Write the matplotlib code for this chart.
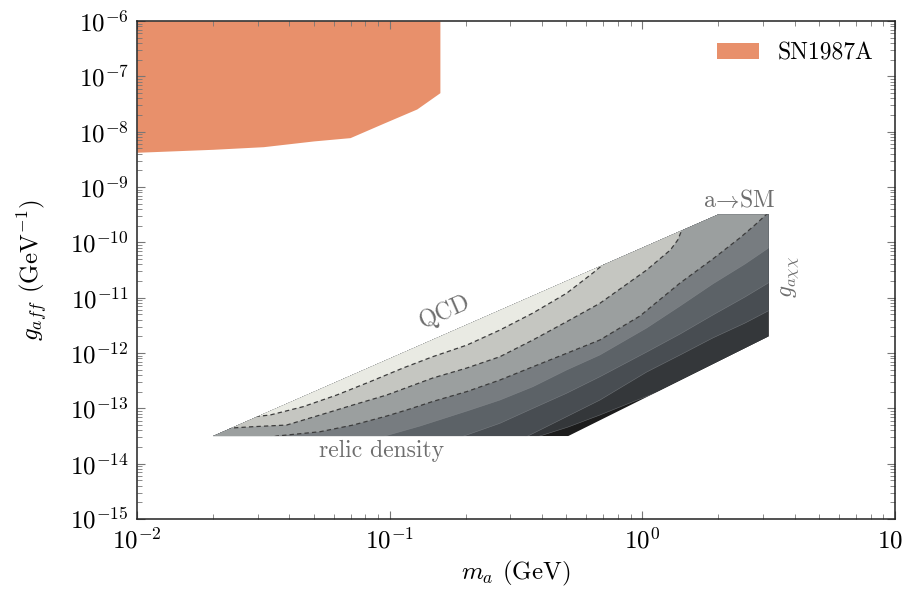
import matplotlib
matplotlib.use("Agg")
import matplotlib.pyplot as plt
from matplotlib.patches import Polygon
from matplotlib.ticker import LogLocator, NullFormatter

plt.rcParams['font.family'] = ['cmr10', 'DejaVu Serif']
plt.rcParams['mathtext.fontset'] = 'cm'
plt.rcParams['axes.formatter.use_mathtext'] = True

# --- SN1987A excluded region (lower edge, filled up to the top) ---
sn_m = [0.01, 0.02, 0.0316, 0.05, 0.0697, 0.0944, 0.128, 0.158]
sn_g = [4.24e-9, 4.8e-9, 5.35e-9, 6.8e-9, 7.8e-9, 1.42e-8, 2.57e-8, 5.06e-8]

# --- allowed region outline (QCD / relic density / a->SM / g_axx edges) ---
region_m = [0.02, 0.509, 3.16, 3.16, 2.0]
region_g = [3.16e-14, 3.16e-14, 2.0e-12, 3.2e-10, 3.2e-10]

# --- contour boundaries, upper-left to lower-right ---
b1_m = [0.0275, 0.0336, 0.0454, 0.0617, 0.0836, 0.113, 0.148, 0.202, 0.273, 0.369, 0.501, 0.637, 0.793]
b1_g = [6.87e-14, 7.57e-14, 1.07e-13, 1.74e-13, 3.03e-13, 5.36e-13, 8.57e-13, 1.39e-12, 2.60e-12,
        5.28e-12, 1.20e-11, 2.79e-11, 6.41e-11]

b2_m = [0.0226, 0.0288, 0.0391, 0.0530, 0.0716, 0.0973, 0.148, 0.202, 0.273, 0.369, 0.501, 0.679,
        1.04, 1.29, 1.38, 1.45, 1.48]
b2_g = [4.36e-14, 4.66e-14, 4.99e-14, 7.57e-14, 1.15e-13, 1.74e-13, 3.53e-13, 5.36e-13, 8.57e-13,
        1.72e-12, 3.67e-12, 7.91e-12, 3.16e-11, 7.26e-11, 1.10e-10, 1.91e-10, 3.2e-10]

b3_m = [0.0307, 0.0357, 0.0530, 0.0716, 0.0973, 0.120, 0.148, 0.202, 0.273, 0.369, 0.501, 0.679,
        0.978, 1.41, 1.90, 2.43, 2.79, 3.14, 3.4]
b3_g = [2.67e-14, 3.16e-14, 3.78e-14, 4.99e-14, 7.26e-14, 9.72e-14, 1.33e-13, 2.01e-13, 3.25e-13,
        5.65e-13, 9.86e-13, 1.72e-12, 4.66e-12, 1.84e-11, 5.0e-11, 1.20e-10, 2.06e-10, 3.39e-10, 4.5e-10]

b4_m = [0.0836, 0.0958, 0.132, 0.202, 0.273, 0.369, 0.501, 0.679, 1.04, 1.41, 1.90, 2.55, 3.20, 3.84]
b4_g = [2.67e-14, 3.16e-14, 4.79e-14, 8.93e-14, 1.41e-13, 2.46e-13, 4.92e-13, 9.20e-13,
        2.83e-12, 7.06e-12, 1.77e-11, 4.06e-11, 8.22e-11, 1.30e-10]

b5_m = [0.173, 0.202, 0.273, 0.369, 0.501, 0.679, 1.04, 1.41, 1.90, 2.55, 3.20, 3.84]
b5_g = [2.56e-14, 3.30e-14, 5.36e-14, 1.0e-13, 1.87e-13, 3.72e-13, 1.04e-12, 2.20e-12, 4.85e-12,
        1.03e-11, 1.92e-11, 3.03e-11]

b6_m = [0.313, 0.348, 0.501, 0.679, 1.04, 1.41, 1.90, 2.55, 3.20, 3.84]
b6_g = [2.56e-14, 3.07e-14, 7.05e-14, 1.41e-13, 4.53e-13, 9.20e-13, 1.87e-12, 3.48e-12, 5.98e-12, 9.08e-12]

b7_m = [0.343, 0.376, 0.508, 0.679, 0.935, 1.25, 1.45, 3.5]
b7_g = [2.56e-14, 2.96e-14, 4.59e-14, 7.57e-14, 1.36e-13, 2.28e-13, 3.0e-13, 1.5e-12]

boundaries = [(b1_m, b1_g), (b2_m, b2_g), (b3_m, b3_g), (b4_m, b4_g),
              (b5_m, b5_g), (b6_m, b6_g), (b7_m, b7_g)]
band_colors = ['#e9eae3', '#c5c6c1', '#9b9f9f', '#777c80', '#5c6267', '#484d52', '#34373a']
darkest = '#1c1c1c'
orange = '#e8906b'
grey_txt = '#6e6e6e'

fig = plt.figure(figsize=(9.02, 5.91), dpi=100)
ax = fig.add_axes([0.1519, 0.1218, 0.8404, 0.8427])
ax.set_xscale('log')
ax.set_yscale('log')
ax.set_xlim(1e-2, 10)
ax.set_ylim(1e-15, 1e-6)

ax.fill_between(sn_m, sn_g, 1e-6, color=orange, lw=0, label='SN1987A')

# region outline used as clip path
clip = Polygon(list(zip(region_m, region_g)), closed=True, transform=ax.transData,
               facecolor=darkest, edgecolor='none')
ax.add_patch(clip)

# paint bands from lower-right to upper-left, each covering everything above its boundary
top, left = 1e-5, 1e-3
for (bm, bg), col in reversed(list(zip(boundaries, band_colors))):
    verts = list(zip(bm, bg)) + [(bm[-1], top), (left, top), (left, bg[0])]
    p = Polygon(verts, closed=True, facecolor=col, edgecolor='none', transform=ax.transData)
    ax.add_patch(p)
    p.set_clip_path(clip)

for i, (bm, bg) in enumerate(boundaries):
    if i < 3:
        ln, = ax.plot(bm, bg, color='#3c3c3c', lw=0.9, linestyle=(0, (3.5, 2.5)))
    else:
        ln, = ax.plot(bm, bg, color='#8e9296', lw=0.4, alpha=0.6)
    ln.set_clip_path(clip)

ax.text(0.0932, 1.7e-14, 'relic density', color=grey_txt, fontsize=17, ha='center', va='center')
ax.text(0.1655, 5.5e-12, 'QCD', color=grey_txt, fontsize=17, ha='center', va='center', rotation=23.6)
ax.text(2.43, 5.8e-10, r'a$\!\rightarrow\!$SM', color=grey_txt, fontsize=17, ha='center', va='center')
ax.text(3.84, 2.36e-11, r'$g_{a\chi\chi}$', color=grey_txt, fontsize=17, ha='center', va='center',
        rotation=90)

ax.set_xlabel(r'$m_a$ (GeV)', fontsize=18, labelpad=4)
ax.set_ylabel(r'$g_{aff}$ (GeV$^{-1}$)', fontsize=18, labelpad=14)

ax.xaxis.set_minor_locator(LogLocator(base=10, subs=range(2, 10), numticks=100))
ax.yaxis.set_minor_locator(LogLocator(base=10, subs=range(2, 10), numticks=100))
ax.yaxis.set_major_locator(LogLocator(base=10, numticks=20))
ax.xaxis.set_minor_formatter(NullFormatter())
ax.yaxis.set_minor_formatter(NullFormatter())
ax.tick_params(which='both', direction='in', top=True, right=True, color='#777777')
ax.tick_params(which='major', length=6, labelsize=18, pad=6)
ax.tick_params(which='minor', length=3.5)
for s in ax.spines.values():
    s.set_color('#222222')
    s.set_linewidth(1.1)

ax.legend(loc='upper right', frameon=False, fontsize=17, handlelength=1.8)

plt.savefig('out.png', dpi=100)
